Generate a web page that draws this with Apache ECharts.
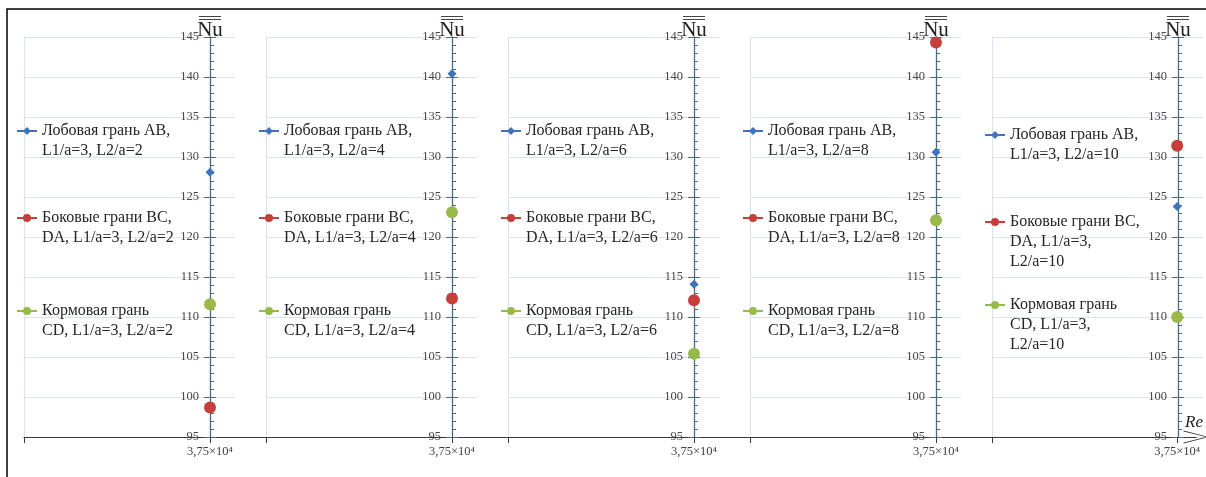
<!DOCTYPE html>
<html><head><meta charset="utf-8">
<script src="https://cdn.jsdelivr.net/npm/echarts@6/dist/echarts.min.js"></script>
<style>html,body{margin:0;padding:0;background:#fff}#c{width:1206px;height:477px}</style>
</head><body><div id="c"></div>
<script>
// ---- data ----
const reynolds = 37500;
const ratioL2 = [2, 4, 6, 8, 10];
const frontAB = [128.1, 140.4, 114.1, 130.6, 123.8];
const sideBCDA = [98.7, 112.3, 112.1, 144.3, 131.4];
const sternCD = [111.6, 123.1, 105.4, 122.1, 110.0];
const yMin = 95, yMax = 145, yStep = 5;
const xTickLabel = '3,75×10⁴';
const yTitle = 'Nu';
const xTitle = 'Re';
const frontNames = [
  'Лобовая грань AB,\nL1/a=3, L2/a=2',
  'Лобовая грань AB,\nL1/a=3, L2/a=4',
  'Лобовая грань AB,\nL1/a=3, L2/a=6',
  'Лобовая грань AB,\nL1/a=3, L2/a=8',
  'Лобовая грань AB,\nL1/a=3, L2/a=10'
];
const sideNames = [
  'Боковые грани BC,\nDA, L1/a=3, L2/a=2',
  'Боковые грани BC,\nDA, L1/a=3, L2/a=4',
  'Боковые грани BC,\nDA, L1/a=3, L2/a=6',
  'Боковые грани BC,\nDA, L1/a=3, L2/a=8',
  'Боковые грани BC,\nDA, L1/a=3,\nL2/a=10'
];
const sternNames = [
  'Кормовая грань\nCD, L1/a=3, L2/a=2',
  'Кормовая грань\nCD, L1/a=3, L2/a=4',
  'Кормовая грань\nCD, L1/a=3, L2/a=6',
  'Кормовая грань\nCD, L1/a=3, L2/a=8',
  'Кормовая грань\nCD, L1/a=3,\nL2/a=10'
];

// ---- layout / style ----
const PANEL_W = 242, AXIS_POS = 186, GRID_W = 211, TOP = 37, H = 400, K = 100;
const legendIconY = [[131, 218, 311], [131, 218, 311], [131, 218, 311], [131, 218, 311], [135, 222, 305]];
const colors = ['#3f74bb', '#c63f3b', '#98ba4b'];
const symbols = ['diamond', 'circle', 'circle'];
const symSizes = [9, 12, 12];
const LH = 20;
const serif = 'Liberation Serif';
const axisCol = '#4d6a89';
const arrowPath = 'path://M0,25 L6.5,0 L13,25 L12,25 L6.5,2.2 L1,25 Z';

const grid = [], xAxis = [], yAxis = [], series = [], legend = [];
for (let i = 0; i < ratioL2.length; i++) {
  const L = 24 + PANEL_W * i;
  const last = i === ratioL2.length - 1;
  const wA = last ? 1197 - L : PANEL_W;
  const xmin = reynolds - AXIS_POS * K;
  grid.push({ left: L, top: TOP, width: wA, height: H });
  grid.push({ left: L, top: TOP, width: GRID_W, height: H });
  // main x axis
  xAxis.push({
    gridIndex: 2 * i, type: 'value', min: xmin, max: xmin + wA * K,
    axisLine: { show: true, onZero: false, lineStyle: { color: '#3a3a3a', width: 1.2 },
      symbol: last ? ['none', arrowPath] : 'none', symbolSize: [13, 25] },
    axisTick: { show: true, customValues: [xmin, reynolds], length: 6, lineStyle: { color: '#3a3a3a' } },
    axisLabel: { show: true, customValues: [reynolds], formatter: () => xTickLabel, margin: 8,
      fontFamily: serif, fontSize: 12.5, color: '#404040' },
    splitLine: { show: false },
    name: last ? xTitle : '', nameLocation: 'end', nameGap: -11, nameMoveOverlap: false,
    nameTextStyle: { fontFamily: serif, fontStyle: 'italic', fontSize: 17, color: '#222',
      align: 'left', verticalAlign: 'bottom', padding: [0, 0, 6, 0] }
  });
  // grid-line x axis
  xAxis.push({ gridIndex: 2 * i + 1, type: 'value', min: xmin, max: xmin + GRID_W * K, show: false });
  // main y axis
  yAxis.push({
    gridIndex: 2 * i, type: 'value', min: yMin, max: yMax, interval: yStep,
    position: 'left', offset: -AXIS_POS,
    axisLine: { show: true, onZero: false, lineStyle: { color: axisCol, width: 1.3 } },
    axisTick: { show: true, inside: true, length: 6, lineStyle: { color: axisCol } },
    minorTick: { show: true, splitNumber: 5, length: 4, lineStyle: { color: axisCol } },
    axisLabel: { show: true, margin: 11, fontFamily: serif, fontSize: 12.5, color: '#454545' },
    splitLine: { show: false },
    name: '{o| }\n{g| }\n{o| }\n{n|' + yTitle + '}', nameLocation: 'end', nameGap: -4,
    nameMoveOverlap: false,
    nameTextStyle: { rich: {
      o: { fontSize: 1, width: 22, height: 1, lineHeight: 1, backgroundColor: '#444' },
      g: { fontSize: 1, height: 2, lineHeight: 2 },
      n: { fontFamily: serif, fontSize: 21, lineHeight: 21, color: '#222' }
    } }
  });
  // left half of major ticks
  yAxis.push({
    gridIndex: 2 * i, type: 'value', min: yMin, max: yMax, interval: yStep,
    position: 'left', offset: -AXIS_POS,
    axisLine: { show: false, onZero: false },
    axisTick: { show: true, inside: false, length: 6, lineStyle: { color: axisCol } },
    axisLabel: { show: false }, splitLine: { show: false }
  });
  // grid lines
  yAxis.push({
    gridIndex: 2 * i + 1, type: 'value', min: yMin, max: yMax, interval: yStep,
    position: 'left',
    axisLine: { show: true, onZero: false, lineStyle: { color: '#dbe2ea', width: 1 } },
    axisTick: { show: false }, axisLabel: { show: false },
    splitLine: { show: true, lineStyle: { color: '#dbe2ea', width: 1 } }
  });
  const vals = [frontAB[i], sideBCDA[i], sternCD[i]];
  const names = [frontNames[i], sideNames[i], sternNames[i]];
  for (let s = 0; s < 3; s++) {
    series.push({
      type: 'line', name: names[s], xAxisIndex: 2 * i, yAxisIndex: 3 * i,
      data: [[reynolds, vals[s]]],
      symbol: symbols[s], symbolSize: symSizes[s], showSymbol: true,
      itemStyle: { color: colors[s] }, lineStyle: { color: colors[s], width: 1.2 },
      z: 5
    });
    const nLines = names[s].split('\n').length;
    const blockH = (2 * nLines - 1) * LH;
    legend.push({
      data: [names[s]], orient: 'vertical', left: L - 8,
      top: legendIconY[i][s] - blockH / 2, padding: 0,
      itemWidth: 20, itemHeight: 10,
      formatter: (nm) => '\n'.repeat(nLines - 1) + nm,
      textStyle: { fontFamily: serif, fontSize: 16, lineHeight: LH, color: '#262626' }
    });
  }
}

const chart = echarts.init(document.getElementById('c'));
chart.setOption({
  animation: false,
  backgroundColor: '#fff',
  grid, xAxis, yAxis, series, legend,
  graphic: [{ type: 'rect', shape: { x: 7, y: 9, width: 1400, height: 600 },
    style: { fill: 'none', stroke: '#000', lineWidth: 1.5 }, z: 100, silent: true }]
});
</script></body></html>
